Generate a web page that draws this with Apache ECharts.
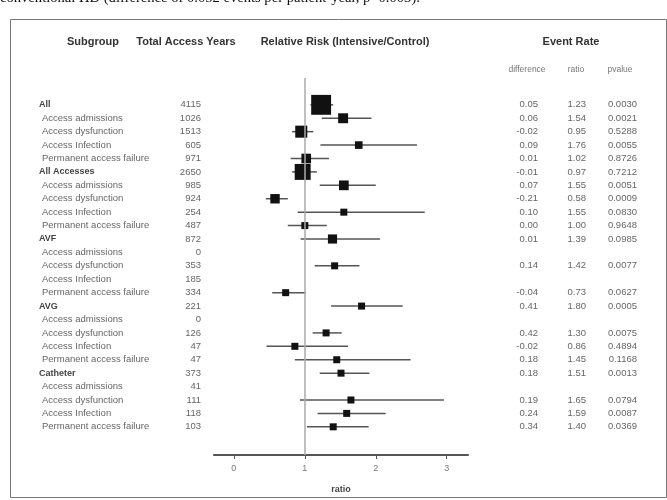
<!DOCTYPE html>
<html><head><meta charset="utf-8">
<script src="https://cdn.jsdelivr.net/npm/echarts@6/dist/echarts.min.js"></script>
<style>html,body{margin:0;padding:0;background:#fff}#c{width:667px;height:500px}</style>
</head><body><div id="c"></div>
<script>
// ---------- data ----------
const subgroups = ["All","Access admissions","Access dysfunction","Access Infection","Permanent access failure",
  "All Accesses","Access admissions","Access dysfunction","Access Infection","Permanent access failure",
  "AVF","Access admissions","Access dysfunction","Access Infection","Permanent access failure",
  "AVG","Access admissions","Access dysfunction","Access Infection","Permanent access failure",
  "Catheter","Access admissions","Access dysfunction","Access Infection","Permanent access failure"];
const groupRows = ["All","All Accesses","AVF","AVG","Catheter"];
const accessYears = [4115,1026,1513,605,971, 2650,985,924,254,487, 872,0,353,185,334, 221,0,126,47,47, 373,41,111,118,103];
const rrEstimate = [1.23,1.54,0.95,1.76,1.02, 0.97,1.55,0.58,1.55,1.00, 1.39,null,1.42,null,0.73, 1.80,null,1.30,0.86,1.45, 1.51,null,1.65,1.59,1.40];
const ciLower = [1.08,1.24,0.82,1.22,0.80, 0.82,1.21,0.45,0.90,0.76, 0.94,null,1.14,null,0.54, 1.37,null,1.11,0.46,0.86, 1.21,null,0.93,1.18,1.03];
const ciUpper = [1.40,1.94,1.12,2.58,1.34, 1.17,2.00,0.76,2.69,1.31, 2.06,null,1.77,null,1.01, 2.38,null,1.52,1.61,2.49, 1.91,null,2.96,2.14,1.90];
const rateDifference = ["0.05","0.06","-0.02","0.09","0.01", "-0.01","0.07","-0.21","0.10","0.00", "0.01","","0.14","","-0.04", "0.41","","0.42","-0.02","0.18", "0.18","","0.19","0.24","0.34"];
const rateRatio = ["1.23","1.54","0.95","1.76","1.02", "0.97","1.55","0.58","1.55","1.00", "1.39","","1.42","","0.73", "1.80","","1.30","0.86","1.45", "1.51","","1.65","1.59","1.40"];
const pValues = ["0.0030","0.0021","0.5288","0.0055","0.8726", "0.7212","0.0051","0.0009","0.0830","0.9648", "0.0985","","0.0077","","0.0627", "0.0005","","0.0075","0.4894","0.1168", "0.0013","","0.0794","0.0087","0.0369"];
const xTicks = [0,1,2,3];
const headers = ["Subgroup","Total Access Years","Relative Risk (Intensive/Control)","Event Rate"];
const subHeaders = ["difference","ratio","pvalue"];
const captionText = "conventional HD (difference of 0.052 events per patient-year, p=0.003).";

// ---------- layout ----------
const FONT = "'Liberation Sans', Arial, sans-serif";
const COL = {group: 39, sub: 42, years: 201, diff: 538, ratio: 586, p: 637};

const forestData = [];
rrEstimate.forEach((v, i) => {
  if (v !== null) forestData.push([ciLower[i], ciUpper[i], v, i, accessYears[i]]);
});
const tableData = subgroups.map((s, i) => [0, i]);

function txt(text, x, y, align, size, weight, color) {
  return {type: 'text', x: x, y: y, silent: true,
    style: {text: text, align: align, verticalAlign: 'middle', textAlign: align, textVerticalAlign: 'middle',
      fontSize: size, fontWeight: weight, fontFamily: FONT, fill: color}};
}

const chart = echarts.init(document.getElementById('c'), null, {renderer: 'canvas'});
chart.setOption({
  animation: false,
  backgroundColor: '#fff',
  grid: {left: 214, width: 254, top: 78, height: 377},
  xAxis: {
    type: 'value', min: -0.28, max: 3.3,
    splitLine: {show: false},
    axisLine: {show: true, onZero: false, lineStyle: {color: '#555', width: 2}},
    axisTick: {show: true, customValues: xTicks, length: 4, lineStyle: {color: '#555', width: 1}},
    axisLabel: {customValues: xTicks, color: '#777', fontSize: 9, fontFamily: FONT, margin: 9},
    name: 'ratio', nameLocation: 'middle', nameGap: 30,
    nameTextStyle: {color: '#444', fontSize: 9, fontWeight: 'bold', fontFamily: FONT}
  },
  yAxis: {type: 'value', inverse: true, min: -2, max: 26.1, show: false},
  graphic: [
    {type: 'text', left: 0, top: -9, silent: true,
      style: {text: captionText, fontSize: 14.6, fontFamily: "'Liberation Serif', 'Times New Roman', serif", fill: '#111'}},
    {type: 'rect', shape: {x: 10.5, y: 19.5, width: 656, height: 478}, silent: true,
      style: {fill: 'none', stroke: '#777', lineWidth: 1}},
    txt(headers[0], 93, 42, 'center', 11, 'bold', '#333'),
    txt(headers[1], 186, 42, 'center', 11, 'bold', '#333'),
    txt(headers[2], 345, 42, 'center', 11, 'bold', '#333'),
    txt(headers[3], 571, 42, 'center', 11, 'bold', '#333'),
    txt(subHeaders[0], 527, 70, 'center', 8.5, 'normal', '#777'),
    txt(subHeaders[1], 576, 70, 'center', 8.5, 'normal', '#777'),
    txt(subHeaders[2], 620, 70, 'center', 8.5, 'normal', '#777')
  ],
  series: [
    {
      type: 'custom', name: 'table', clip: false, silent: true,
      data: tableData, encode: {x: 0, y: 1},
      renderItem: function (params, api) {
        const i = params.dataIndex;
        const y = api.coord([0, api.value(1)])[1];
        const isGroup = groupRows.indexOf(subgroups[i]) >= 0;
        const c = '#666';
        return {type: 'group', children: [
          txt(subgroups[i], isGroup ? COL.group : COL.sub, y, 'left', isGroup ? 9 : 9.5, isGroup ? 'bold' : 'normal', isGroup ? '#444' : c),
          txt(String(accessYears[i]), COL.years, y, 'right', 9.5, 'normal', c),
          txt(rateDifference[i], COL.diff, y, 'right', 9.5, 'normal', c),
          txt(rateRatio[i], COL.ratio, y, 'right', 9.5, 'normal', c),
          txt(pValues[i], COL.p, y, 'right', 9.5, 'normal', c)
        ]};
      }
    },
    {
      type: 'custom', name: 'forest', clip: false, silent: true,
      data: forestData, encode: {x: [0, 1, 2], y: 3},
      renderItem: function (params, api) {
        const lo = api.coord([api.value(0), api.value(3)]);
        const hi = api.coord([api.value(1), api.value(3)]);
        const est = api.coord([api.value(2), api.value(3)]);
        const s = Math.max(7, 0.31 * Math.sqrt(api.value(4)));
        return {type: 'group', children: [
          {type: 'line', shape: {x1: lo[0], y1: lo[1], x2: hi[0], y2: hi[1]}, style: {stroke: '#555', lineWidth: 1.5}},
          {type: 'rect', shape: {x: est[0] - s / 2, y: est[1] - s / 2, width: s, height: s}, style: {fill: '#111'}}
        ]};
      },
      markLine: {
        silent: true, symbol: 'none', label: {show: false},
        lineStyle: {color: '#aaa', width: 1.5, type: 'solid'},
        data: [{xAxis: 1}]
      }
    }
  ]
});
</script>
</body></html>
